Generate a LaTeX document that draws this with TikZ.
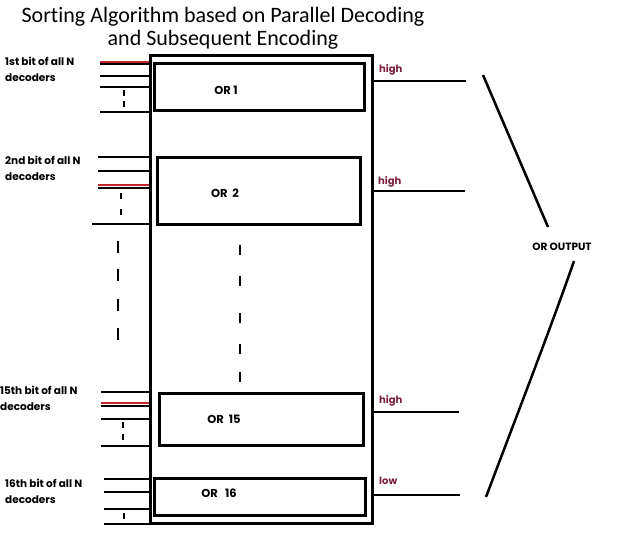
\documentclass[tikz,border=0pt]{standalone}
\usepackage{fontspec}
\setmainfont{Poppins}
\newfontfamily\titlefont[Ligatures=NoCommon]{Carlito}
\usetikzlibrary{positioning}
\definecolor{sigRed}{HTML}{C0282D}
\definecolor{lvlMaroon}{HTML}{7B1E3E}

\begin{document}
\begin{tikzpicture}[x=1pt, y=-1pt,
  wire/.style={line width=2.5pt},
  hotwire/.style={line width=2.8pt, draw=sigRed},
  orbox/.style={draw, line width=2.5pt, anchor=north west, inner sep=0pt},
  tick/.style={line width=2.8pt},
  bitlbl/.style={font=\fontsize{10.5}{15.5}\selectfont\bfseries, align=left, anchor=north west, inner sep=0pt},
  orlbl/.style={font=\fontsize{11.5}{13}\selectfont\bfseries},
  lvl/.style={font=\fontsize{10}{11}\selectfont\bfseries, text=lvlMaroon, anchor=base west, inner sep=0pt},
]
  \useasboundingbox (0,0) rectangle (620,551);

  % title
  \node[font=\titlefont\fontsize{22}{23}\selectfont, align=center] (title) at (223,28)
    {Sorting Algorithm based on Parallel Decoding\\and Subsequent Encoding};

  % big box and the OR blocks
  \node[orbox, line width=2.8pt, minimum width=222pt, minimum height=468pt] (main) at (149,54) {};
  \node[orbox, minimum width=210pt, minimum height=47pt] (or1) at (153,62) {};
  \node[orbox, minimum width=203pt, minimum height=67pt] (or2) at (156,156) {};
  \node[orbox, minimum width=204pt, minimum height=52pt] (or15) at (158,392) {};
  \node[orbox, minimum width=211pt, minimum height=37pt] (or16) at (153,477) {};
  \node[orlbl] (or1lbl) at (226,90) {OR 1};
  \node[orlbl] (or2lbl) at (225,193) {OR\ \ 2};
  \node[orlbl] (or15lbl) at (224,419) {OR\ \ 15};
  \node[orlbl] (or16lbl) at (219,493) {OR\ \ \ 16};

  % bit labels
  \node[bitlbl] (bit1) at (5,57) {1st bit of all N\\decoders};
  \node[bitlbl] (bit2) at (5,156) {2nd bit of all N\\decoders};
  \node[bitlbl] (bit15) at (0,386) {15th bit of all N\\decoders};
  \node[bitlbl] (bit16) at (5,479) {16th bit of all N\\decoders};

  % decoder inputs
  \foreach \x/\y in {100/64,100/76,100/87,100/112,
                     98/157,98/171,98/188,92/224,
                     101/392,101/406,101/419,101/446,
                     104/479,104/492,104/509,104/524}
    \draw[wire] (\x,\y) -- (\x,\y -| main.west);
  \foreach \x/\y in {100/62,98/185,101/403}
    \draw[hotwire] (\x,\y) -- (\x,\y -| main.west);
  \foreach \x/\y in {124/93,124/104,121/196,121/212,123/425,123/437,124/516}
    \draw[tick] (\x,\y-3) -- (\x,\y+3);
  \foreach \y in {247,275,305,334}
    \draw[tick] (118,\y-6) -- (118,\y+6);
  \foreach \y in {250,281,318,349,377}
    \draw[tick] (240,\y-5) -- (240,\y+5);

  % outputs
  \coordinate (out1) at (466,81);
  \coordinate (out2) at (465,191);
  \coordinate (out15) at (459,412);
  \coordinate (out16) at (460,495);
  \foreach \o in {out1,out2,out15,out16}
    \draw[wire] (\o -| main.east) -- (\o);
  \node[lvl] (lvl1) at (379,72) {high};
  \node[lvl] (lvl2) at (378,184) {high};
  \node[lvl] (lvl15) at (379,403) {high};
  \node[lvl] (lvl16) at (379,484) {low};

  % or output brace
  \node[font=\fontsize{10.5}{12}\selectfont\bfseries] (orout) at (562,247) {OR OUTPUT};
  \coordinate (br1) at (483,75);
  \coordinate (br2) at (548,227);
  \coordinate (br3) at (574,261);
  \coordinate (br4) at (486,497);
  \draw[wire] (br1) -- (br2);
  \draw[wire] (br3) .. controls (550,330) and (515,420) .. (br4);
\end{tikzpicture}
\end{document}
